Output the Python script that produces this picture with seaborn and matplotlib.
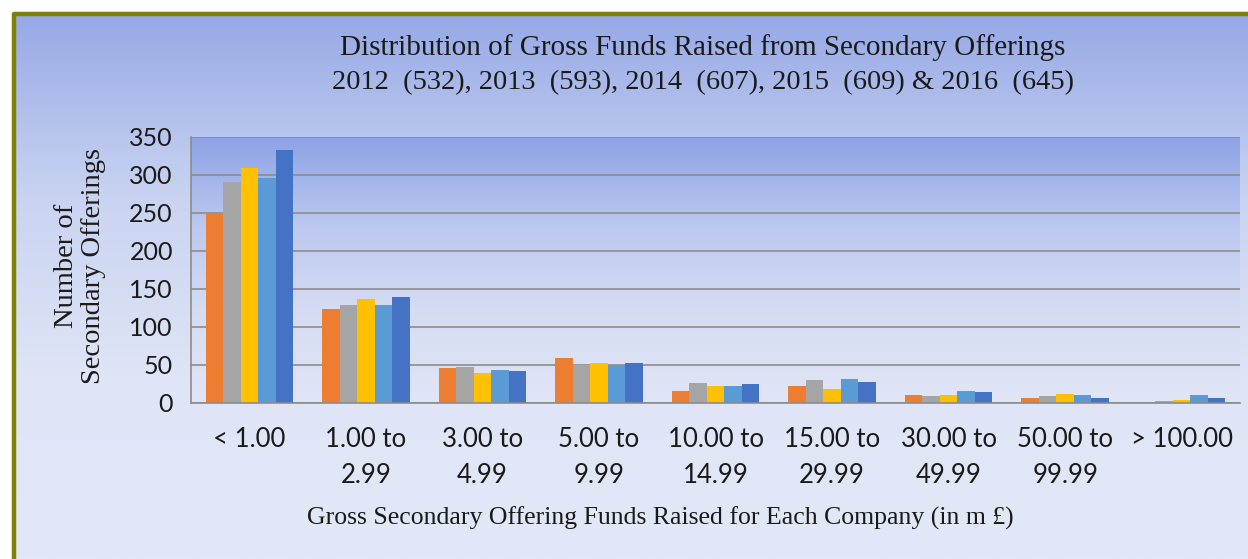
import numpy as np
import pandas as pd
import matplotlib.pyplot as plt
import seaborn as sns
from matplotlib.colors import LinearSegmentedColormap

# Data
ranges = ['< 1.00', '1.00 to\n2.99', '3.00 to\n4.99', '5.00 to\n9.99', '10.00 to\n14.99',
          '15.00 to\n29.99', '30.00 to\n49.99', '50.00 to\n99.99', '> 100.00']
years = ['2012', '2013', '2014', '2015', '2016']
y2012 = [250, 123, 46, 59, 16, 22, 10, 6, 0]
y2013 = [291, 129, 47, 50, 26, 30, 9, 9, 2]
y2014 = [309, 137, 40, 53, 22, 19, 11, 12, 4]
y2015 = [296, 129, 43, 50, 22, 32, 16, 10, 11]
y2016 = [332, 139, 42, 52, 25, 27, 14, 7, 7]
colors = ['#ED7D31', '#A5A5A5', '#FFC000', '#5B9BD5', '#4472C4']

df = pd.DataFrame({
    'Range': ranges * 5,
    'Year': np.repeat(years, len(ranges)),
    'Count': y2012 + y2013 + y2014 + y2015 + y2016,
})

sns.set_style('white')
W, H = 1248, 559
fig = plt.figure(figsize=(W / 100, H / 100), dpi=100)
fig.patch.set_facecolor('white')

# page background with gradient and olive frame
bg = fig.add_axes([0, 0, 1, 1])
bg.set_axis_off()
bg.set_xlim(0, W)
bg.set_ylim(H, 0)
page = LinearSegmentedColormap.from_list('page', ['#96a9e6', '#c9d3f1', '#dfe5f6', '#e2e8f7'])
bg.imshow(np.linspace(0, 1, 256).reshape(-1, 1), cmap=page, aspect='auto',
          extent=[14, W, H, 14], zorder=0)
bg.plot([14, 14, W], [H, 14, 14], color='#7f7f00', lw=3.2, solid_capstyle='butt', zorder=1)

# plot area
ax = fig.add_axes([191 / W, 1 - 403 / H, 1049 / W, (403 - 136.7) / H])
sns.barplot(data=df, x='Range', y='Count', hue='Year', palette=colors, width=0.75,
            saturation=1, linewidth=0, legend=False, ax=ax)
plot_cm = LinearSegmentedColormap.from_list('plot', ['#8ca2e6', '#bcc8ef', '#d6ddf3', '#e0e6f6'])
ax.imshow(np.linspace(0, 1, 256).reshape(-1, 1), cmap=plot_cm, aspect='auto',
          extent=[-0.5, 8.5, 0, 350], zorder=-2)
ax.set_xlim(-0.5, 8.5)
ax.set_ylim(0, 350)
ax.set_yticks(range(0, 351, 50))
ax.yaxis.grid(True, color='#8c8c8c', lw=1.2)
ax.set_axisbelow(True)
for s in ['top', 'right']:
    ax.spines[s].set_visible(False)
for s in ['left', 'bottom']:
    ax.spines[s].set_color('#8c8c8c')
    ax.spines[s].set_linewidth(1.2)

ax.set_xticks(range(len(ranges)))
ax.set_xticklabels(ranges, linespacing=1.55)
ax.set_xticks(np.arange(-0.5, 9, 1), minor=True)
ax.tick_params(axis='x', which='major', length=0, pad=17, labelsize=18.5, labelcolor='#1a1a1a')
ax.tick_params(axis='x', which='minor', length=8, width=1.2, color='#8c8c8c', direction='out')
ax.tick_params(axis='y', length=9, width=1.2, color='#8c8c8c', direction='out', pad=4,
               labelsize=18, labelcolor='#1a1a1a')
for lab in ax.get_xticklabels() + ax.get_yticklabels():
    lab.set_family('Lato')
ax.set_xlabel('')
ax.set_ylabel('')

serif = 'Liberation Serif'
fig.text(703 / W, 1 - 48 / H, 'Distribution of Gross Funds Raised from Secondary Offerings',
         ha='center', va='center', fontsize=21, family=serif, color='#1a1a1a')
fig.text(703 / W, 1 - 83 / H, '2012  (532), 2013  (593), 2014  (607), 2015  (609) & 2016  (645)',
         ha='center', va='center', fontsize=20.5, family=serif, color='#1a1a1a')
fig.text(80 / W, 1 - 266 / H, 'Number of\nSecondary Offerings', rotation=90, ha='center',
         va='center', fontsize=20.5, family=serif, color='#1a1a1a', linespacing=1.1)
fig.text(660 / W, 1 - 518 / H, 'Gross Secondary Offering Funds Raised for Each Company (in m £)',
         ha='center', va='center', fontsize=18.5, family=serif, color='#1a1a1a')

fig.savefig('out.png', dpi=100)
